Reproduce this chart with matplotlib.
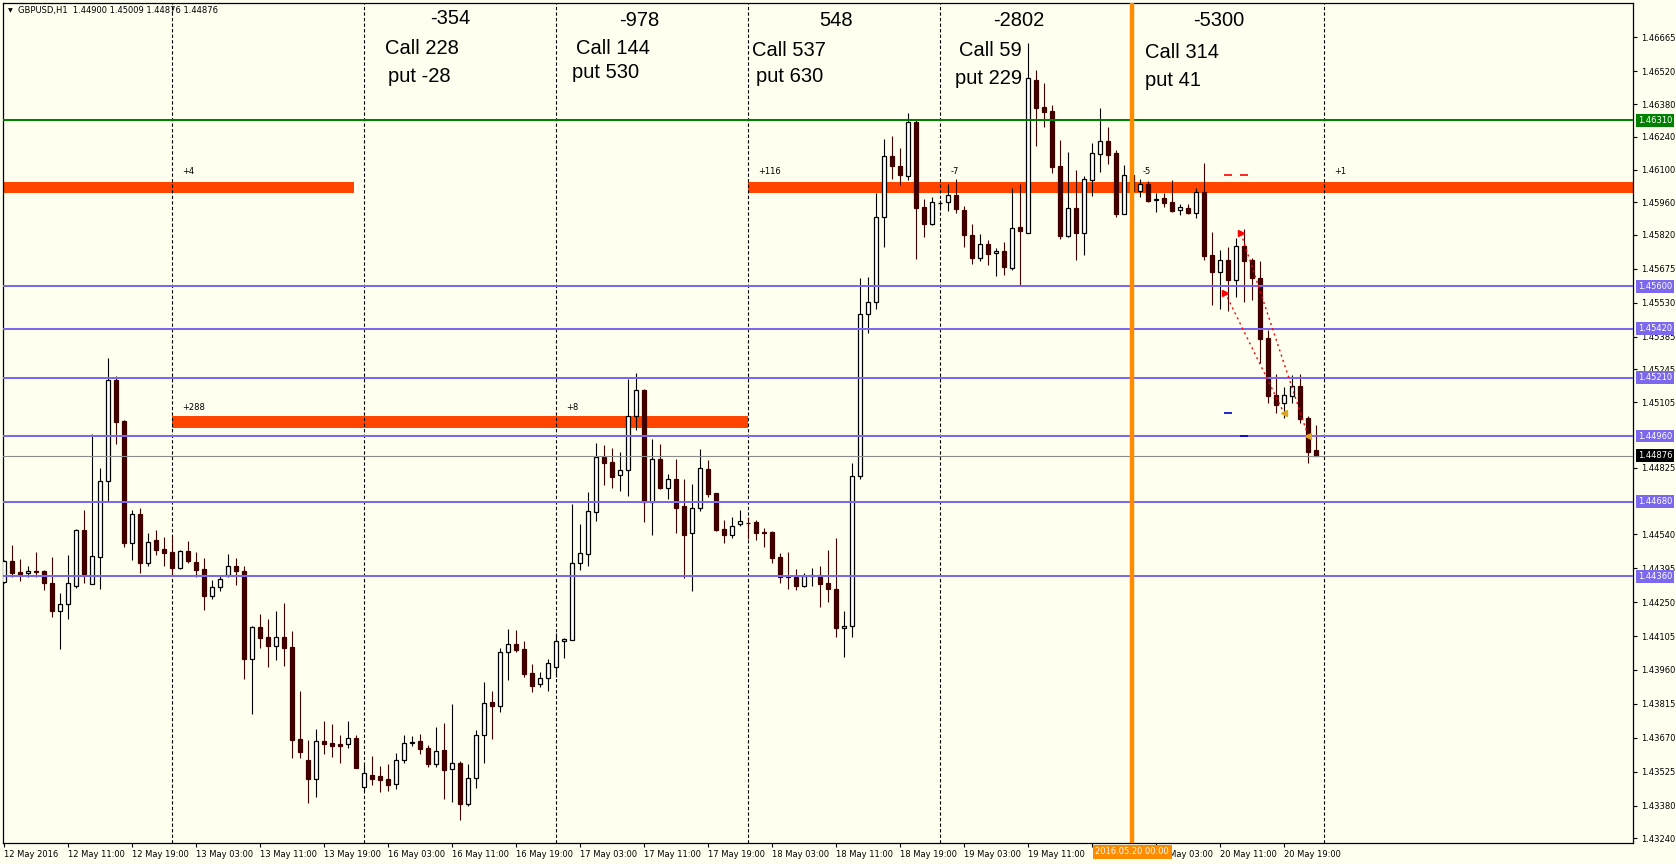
import matplotlib
matplotlib.use('Agg')
import matplotlib.pyplot as plt
import numpy as np

# ---------------- DATA ----------------
symbol_header = "GBPUSD,H1  1.44900 1.45009 1.44876 1.44876"

# H1 bars from 12 May 2016 03:00 to 20 May 2016 23:00 (prices x 1e5)
opens = [144334,144425,144378,144373,144383,144383,144331,144213,144240,144320,
         144557,144329,144444,144770,145198,145023,144501,144629,144418,144515,
         144477,144464,144397,144467,144420,144391,144277,144313,144364,144403,
         144381,144008,144142,144099,144064,144099,144058,143663,143573,143492,
         143657,143646,143643,143642,143667,143458,143509,143505,143492,143471,
         143577,143646,143656,143625,143559,143616,143538,143560,143387,143496,
         143680,143821,143807,144035,144073,144049,143945,143898,143924,143971,
         144082,144086,144416,144454,144634,144869,144849,144792,144817,145045,
         145159,144679,144860,144739,144775,144661,144544,144651,144819,144715,
         144561,144539,144582,144588,144592,144548,144550,144443,144360,144358,
         144320,144360,144368,144330,144306,144140,144150,144790,145480,145532,
         145899,146156,146113,146073,146301,145939,145868,145955,145959,145993,
         145925,145818,145723,145780,145741,145750,145680,145854,145830,146482,
         146368,146350,146115,145817,145934,145830,146055,146166,146220,146169,
         145911,146078,146008,146040,145968,145978,145959,145926,145936,145916,
         146005,145733,145663,145711,145628,145771,145713,145636,145378,145135,
         145100,145133,145174,145037,144900]
highs = [144430,144494,144434,144404,144464,144387,144444,144289,144451,144561,
         144644,144968,144822,145296,145215,145028,144644,144651,144544,144558,
         144528,144531,144473,144511,144465,144437,144344,144366,144454,144438,
         144404,144148,144199,144176,144212,144246,144126,143868,143660,143706,
         143740,143731,143682,143740,143682,143553,143592,143549,143557,143606,
         143682,143677,143686,143639,143716,143733,143814,143572,143558,143703,
         143908,143870,144054,144135,144131,144083,143984,143952,144007,144120,
         144095,144669,144584,144719,144930,144922,144907,144893,145204,145229,
         145162,144946,144926,144800,144862,144775,144756,144904,144857,144718,
         144601,144612,144644,144612,144601,144567,144553,144458,144463,144390,
         144373,144394,144404,144475,144524,144212,144843,145634,145641,146000,
         146229,146243,146190,146343,146311,145973,145984,145969,146036,146059,
         145944,145867,145824,145798,145763,145788,146023,146040,146641,146525,
         146468,146375,146226,146176,146100,146073,146214,146361,146280,146183,
         146119,146100,146059,146052,145998,145998,146055,145952,145952,146023,
         146126,145832,145755,145767,145805,145847,145720,145708,145413,145225,
         145168,145220,145224,145046,145009]
lows = [144330,144358,144341,144358,144358,144302,144187,144050,144178,144311,
        144330,144329,144307,144679,144926,144487,144430,144376,144405,144453,
        144405,144366,144390,144418,144358,144216,144263,144299,144358,144323,
        143920,143773,144055,143974,144002,143978,143582,143582,143389,143418,
        143599,143589,143560,143625,143539,143443,143468,143436,143441,143449,
        143560,143634,143600,143546,143546,143409,143397,143318,143378,143456,
        143563,143665,143781,143917,144038,143931,143867,143888,143871,143931,
        144012,144086,144387,144406,144598,144751,144739,144725,144705,144988,
        144594,144537,144732,144693,144547,144354,144299,144641,144701,144555,
        144504,144525,144575,144518,144515,144487,144418,144333,144307,144302,
        144316,144320,144230,144252,144102,144016,144102,144776,145399,145502,
        145767,146059,146035,146055,145718,145812,145864,145926,145924,145915,
        145770,145698,145708,145691,145646,145649,145670,145601,145827,146202,
        146283,146086,145804,145810,145713,145734,145988,146090,146122,145898,
        145911,146000,145984,145962,145919,145941,145919,145905,145909,145891,
        145713,145520,145505,145495,145553,145534,145542,145271,145100,145060,
        145036,145100,145014,144843,144876]
closes = [144425,144375,144371,144383,144380,144333,144213,144240,144330,144557,
          144370,144446,144770,145202,145021,144504,144629,144418,144505,144474,
          144461,144397,144467,144428,144388,144277,144313,144350,144403,144384,
          144008,144145,144098,144062,144099,144055,143661,143607,143492,143657,
          143644,143636,143636,143667,143542,143518,143495,143491,143469,143577,
          143649,143654,143623,143559,143613,143533,143560,143387,143496,143680,
          143817,143807,144035,144073,144046,143942,143891,143924,143988,144082,
          144091,144416,144458,144638,144869,144846,144786,144817,145045,145159,
          144678,144860,144736,144775,144654,144537,144651,144822,144713,144558,
          144539,144577,144595,144587,144547,144544,144440,144358,144357,144320,
          144363,144368,144329,144307,144140,144150,144790,145480,145532,145896,
          146156,146113,146078,146301,145936,145868,145959,145955,145993,145929,
          145818,145723,145780,145737,145750,145681,145848,145838,146491,146364,
          146347,146112,145817,145934,145830,146058,146169,146220,146164,145911,
          146078,146010,146036,145966,145976,145958,145924,145938,145912,146005,
          145731,145663,145711,145628,145771,145710,145637,145375,145133,145094,
          145135,145174,145034,144893,144876]

day_names = ['12 May', '13 May', '16 May', '17 May', '18 May', '19 May', '20 May']
first_hour = 3
extra_day_separator = 165          # 21 May 00:00 (future)
orange_day_bar = 141               # 20 May 00:00
orange_label = '2016.05.20 00:00'

# horizontal levels
blue_levels = [1.45600, 1.45420, 1.45210, 1.44960, 1.44680, 1.44360]
green_level = 1.46310
last_price = 1.44876

# zones (start bar, end bar, low, high)
zone_starts = [-2, 21, 93]
zone_ends = [43.75, 93, 215]
zone_lows = [1.46000, 1.44995, 1.46000]
zone_highs = [1.46048, 1.45046, 1.46048]

# small day results (bar, price, text)
small_bars = [21, 21, 69, 93, 117, 141, 165]
small_prices = [1.46093, 1.45084, 1.45084, 1.46093, 1.46093, 1.46093, 1.46093]
small_texts = ['+4', '+288', '+8', '+116', '-7', '-5', '+1']

# big annotations
big_titles = ['-354', '-978', '548', '-2802', '-5300']
call_texts = ['Call 228', 'Call 144', 'Call 537', 'Call 59', 'Call 314']
put_texts = ['put -28', 'put 530', 'put 630', 'put 229', 'put 41']

# trades
trade_open_bar = [152.6, 154.6]
trade_open_price = [1.45574, 1.45827]
trade_close_bar = [160.0, 163.0]
trade_close_price = [1.45057, 1.44960]
sl_bar = [153.0, 155.0]
sl_price = [1.46076, 1.46076]
tp_bar = [153.0, 155.0]
tp_price = [1.45057, 1.44960]

y_ticks = [1.46665, 1.46520, 1.46380, 1.46240, 1.46100, 1.45960, 1.45820, 1.45675,
           1.45530, 1.45385, 1.45245, 1.45105, 1.44825, 1.44540, 1.44395,
           1.44250, 1.44105, 1.43960, 1.43815, 1.43670, 1.43525, 1.43380, 1.43240]

# ---------------- FIGURE ----------------
W, H = 1676, 864
BG = '#FFFFF0'
BEAR = '#400000'
fig = plt.figure(figsize=(W / 100, H / 100), dpi=100, facecolor=BG)
ax = fig.add_axes([3 / W, 21 / H, 1630 / W, 840 / H])
ax.set_facecolor(BG)

o = np.array(opens) / 1e5
h = np.array(highs) / 1e5
l = np.array(lows) / 1e5
c = np.array(closes) / 1e5
n = len(o)
x = np.arange(n)

ax.set_xlim(-0.125, 203.6)
ax.set_ylim(1.43220, 1.46812)

# bar times
bar_day, bar_hour = [], []
d, hr = 0, first_hour
for i in range(n):
    bar_day.append(day_names[d]); bar_hour.append(hr)
    hr += 1
    if hr == 24:
        hr = 0; d += 1

# zones
for s, e, lo, hi in zip(zone_starts, zone_ends, zone_lows, zone_highs):
    ax.add_patch(plt.Rectangle((s, lo), e - s, hi - lo, facecolor='#FF4500',
                               edgecolor='none', zorder=1))

# day separators
seps = [i for i in range(n) if bar_hour[i] == 0] + [extra_day_separator]
for s in seps:
    ax.axvline(s, color='black', lw=0.8, ls=(0, (3, 2)), zorder=1.5)

# candles
bull = c >= o
for mask, fc, ec, wc in [(bull, 'white', 'black', 'black'), (~bull, BEAR, BEAR, BEAR)]:
    ax.vlines(x[mask], l[mask], h[mask], color=wc, lw=0.8, zorder=2)
    bottom = np.minimum(o, c)[mask]
    height = np.maximum(np.abs(c - o)[mask], 0.00001)
    ax.bar(x[mask], height, bottom=bottom, width=0.55, facecolor=fc,
           edgecolor=ec, linewidth=0.9, zorder=3)

# horizontal levels
for lv in blue_levels:
    ax.axhline(lv, color='#7B68EE', lw=1.45, zorder=4)
ax.axhline(green_level, color='#008000', lw=1.45, zorder=4)
ax.axhline(last_price, color='#8C8C8C', lw=0.8, zorder=4)

# orange vertical line
ax.axvline(orange_day_bar, color='#FF8C00', lw=3.2, zorder=6)

# small texts
for b, p, t in zip(small_bars, small_prices, small_texts):
    ax.text(b + 1.3, p, t, fontsize=6, color='black', ha='left', va='center',
            family='DejaVu Sans', zorder=7)

# trades
for ob, op, cb, cp in zip(trade_open_bar, trade_open_price, trade_close_bar, trade_close_price):
    ax.plot([ob, cb], [op, cp], color='red', lw=1.0, ls=(0, (1.5, 2.5)), zorder=7)
ax.plot(trade_open_bar, trade_open_price, ls='none', marker='>', ms=5, color='red', zorder=8)
ax.plot(trade_close_bar, trade_close_price, ls='none', marker='<', ms=5, color='#DAA520', zorder=8)
ax.plot(sl_bar, sl_price, ls='none', marker='_', ms=6, mew=1.2, color='red', zorder=8)
ax.plot(tp_bar, tp_price, ls='none', marker='_', ms=6, mew=1.2, color='#0000CD', zorder=8)

# axes style
for sp in ax.spines.values():
    sp.set_color('black'); sp.set_linewidth(0.9)
ax.yaxis.tick_right()
ax.set_yticks(y_ticks)
ax.set_yticklabels(['%.5f' % v for v in y_ticks])
ax.tick_params(axis='y', direction='out', length=3, width=0.8, labelsize=6, pad=3,
               colors='black')
xt = list(range(0, n - 4, 8))
xl = []
for i in xt:
    if i == 0:
        xl.append(bar_day[i] + ' 2016')
    elif 0 < orange_day_bar - i < 6:
        xl.append('')            # fully hidden under the date box in the reference
    else:
        xl.append('%s %02d:00' % (bar_day[i], bar_hour[i]))
ax.set_xticks(xt)
ax.set_xticklabels(xl)
ax.tick_params(axis='x', direction='out', length=3, width=0.8, labelsize=6, pad=2)
for lab in ax.get_xticklabels():
    lab.set_ha('left')
for lab in ax.get_xticklabels() + ax.get_yticklabels():
    lab.set_family('DejaVu Sans')

# price boxes on right
def price_box(val, fc):
    ax.annotate('%.5f' % val, xy=(1, val), xycoords=('axes fraction', 'data'),
                xytext=(5, 0), textcoords='offset pixels', ha='left', va='center',
                color='white', fontsize=6, family='DejaVu Sans',
                bbox=dict(boxstyle='square,pad=0.22', fc=fc, ec='none'),
                annotation_clip=False, zorder=10)
for lv in blue_levels:
    price_box(lv, '#7B68EE')
price_box(green_level, '#008000')
price_box(last_price, 'black')

# orange date label on time axis (covers the start of the next time label)
ax.annotate(orange_label, xy=(orange_day_bar, 0), xycoords=('data', 'axes fraction'),
            xytext=(0, -9), textcoords='offset pixels', ha='center', va='center',
            color='white', fontsize=6, family='DejaVu Sans',
            bbox=dict(boxstyle='square,pad=0.3', fc='#FF8C00', ec='none'),
            annotation_clip=False, zorder=10)

# header
fig.text(8 / W, 1 - 11 / H, '\u25BC', fontsize=4.5, va='center', ha='left', family='DejaVu Sans')
fig.text(18 / W, 1 - 11 / H, symbol_header, fontsize=6, va='center', ha='left',
         family='DejaVu Sans')

# big annotations (layout positions in figure pixels)
title_px = [(450, 19), (639, 21), (836, 20), (1019, 21), (1219, 21)]
call_px = [(385, 48), (576, 48), (752, 51), (959, 50), (1145, 52)]
put_px = [(388, 77), (572, 72), (756, 76), (955, 79), (1145, 81)]
big = dict(fontsize=14.5, family='Liberation Sans', color='black', va='center')
for t, (px, py) in zip(big_titles, title_px):
    fig.text(px / W, 1 - py / H, t, ha='center', **big)
for t, (px, py) in zip(call_texts, call_px):
    fig.text(px / W, 1 - py / H, t, ha='left', **big)
for t, (px, py) in zip(put_texts, put_px):
    fig.text(px / W, 1 - py / H, t, ha='left', **big)

fig.savefig('out.png', dpi=100, facecolor=BG)
